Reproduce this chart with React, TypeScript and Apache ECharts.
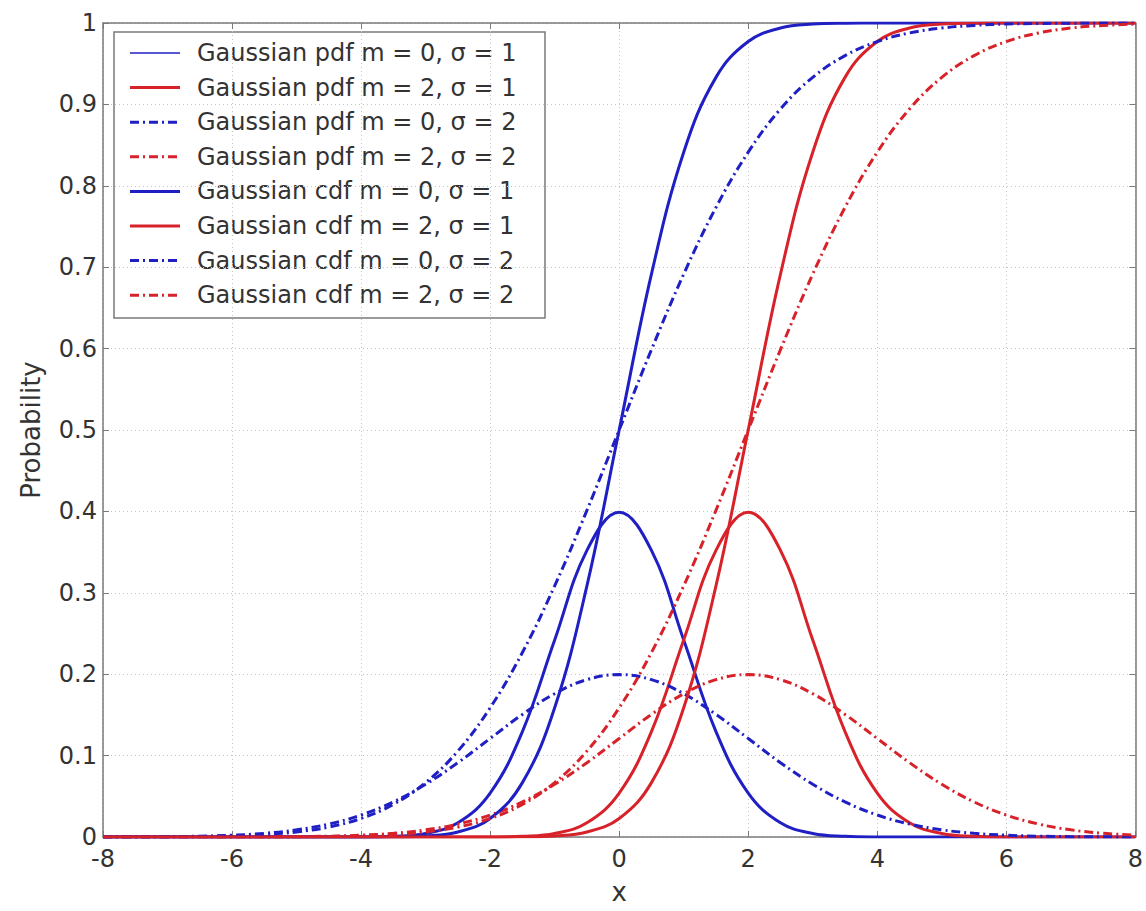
import React, { useEffect, useRef } from "react";
import * as echarts from "echarts";

const xValues = [-8, -7.5, -7, -6.5, -6, -5.5, -5, -4.5, -4, -3.5, -3, -2.5, -2, -1.5, -1, -0.5, 0, 0.5, 1, 1.5, 2, 2.5, 3, 3.5, 4, 4.5, 5, 5.5, 6, 6.5, 7, 7.5, 8];

const pdfM0S1 = [0, 0, 0, 0, 0, 0, 0, 0, 0.0001, 0.0009, 0.0044, 0.0175, 0.054, 0.1295, 0.242, 0.3521, 0.3989, 0.3521, 0.242, 0.1295, 0.054, 0.0175, 0.0044, 0.0009, 0.0001, 0, 0, 0, 0, 0, 0, 0, 0];
const pdfM2S1 = [0, 0, 0, 0, 0, 0, 0, 0, 0, 0, 0, 0, 0.0001, 0.0009, 0.0044, 0.0175, 0.054, 0.1295, 0.242, 0.3521, 0.3989, 0.3521, 0.242, 0.1295, 0.054, 0.0175, 0.0044, 0.0009, 0.0001, 0, 0, 0, 0];
const pdfM0S2 = [0.0001, 0.0002, 0.0004, 0.001, 0.0022, 0.0045, 0.0088, 0.0159, 0.027, 0.0431, 0.0648, 0.0913, 0.121, 0.1506, 0.176, 0.1933, 0.1995, 0.1933, 0.176, 0.1506, 0.121, 0.0913, 0.0648, 0.0431, 0.027, 0.0159, 0.0088, 0.0045, 0.0022, 0.001, 0.0004, 0.0002, 0.0001];
const pdfM2S2 = [0, 0, 0, 0.0001, 0.0001, 0.0002, 0.0004, 0.001, 0.0022, 0.0045, 0.0088, 0.0159, 0.027, 0.0431, 0.0648, 0.0913, 0.121, 0.1506, 0.176, 0.1933, 0.1995, 0.1933, 0.176, 0.1506, 0.121, 0.0913, 0.0648, 0.0431, 0.027, 0.0159, 0.0088, 0.0045, 0.0022];
const cdfM0S1 = [0, 0, 0, 0, 0, 0, 0, 0, 0, 0.0002, 0.0013, 0.0062, 0.0228, 0.0668, 0.1587, 0.3085, 0.5, 0.6915, 0.8413, 0.9332, 0.9772, 0.9938, 0.9987, 0.9998, 1, 1, 1, 1, 1, 1, 1, 1, 1];
const cdfM2S1 = [0, 0, 0, 0, 0, 0, 0, 0, 0, 0, 0, 0, 0, 0.0002, 0.0013, 0.0062, 0.0228, 0.0668, 0.1587, 0.3085, 0.5, 0.6915, 0.8413, 0.9332, 0.9772, 0.9938, 0.9987, 0.9998, 1, 1, 1, 1, 1];
const cdfM0S2 = [0, 0.0001, 0.0002, 0.0006, 0.0013, 0.003, 0.0062, 0.0122, 0.0228, 0.0401, 0.0668, 0.1056, 0.1587, 0.2266, 0.3085, 0.4013, 0.5, 0.5987, 0.6915, 0.7734, 0.8413, 0.8944, 0.9332, 0.9599, 0.9772, 0.9878, 0.9938, 0.997, 0.9987, 0.9994, 0.9998, 0.9999, 1];
const cdfM2S2 = [0, 0, 0, 0, 0, 0.0001, 0.0002, 0.0006, 0.0013, 0.003, 0.0062, 0.0122, 0.0228, 0.0401, 0.0668, 0.1056, 0.1587, 0.2266, 0.3085, 0.4013, 0.5, 0.5987, 0.6915, 0.7734, 0.8413, 0.8944, 0.9332, 0.9599, 0.9772, 0.9878, 0.9938, 0.997, 0.9987];

const seriesNames = [
  "Gaussian pdf m = 0, σ = 1",
  "Gaussian pdf m = 2, σ = 1",
  "Gaussian pdf m = 0, σ = 2",
  "Gaussian pdf m = 2, σ = 2",
  "Gaussian cdf m = 0, σ = 1",
  "Gaussian cdf m = 2, σ = 1",
  "Gaussian cdf m = 0, σ = 2",
  "Gaussian cdf m = 2, σ = 2",
];
const seriesValues = [pdfM0S1, pdfM2S1, pdfM0S2, pdfM2S2, cdfM0S1, cdfM2S1, cdfM0S2, cdfM2S2];

const BLUE = "#1f1fc4";
const RED = "#d8222a";
const DASHDOT = [9, 4, 2, 4];
const seriesColors = [BLUE, RED, BLUE, RED, BLUE, RED, BLUE, RED];
const seriesDashed = [false, false, true, true, false, false, true, true];
const legendWidths = [1.5, 3, 3, 3, 3, 3, 3, 3];

const FONT = "DejaVu Sans";

export default function App() {
  const ref = useRef<HTMLDivElement>(null);
  useEffect(() => {
    if (!ref.current) return;
    const chart = echarts.init(ref.current, undefined, { renderer: "svg" });
    const series = seriesNames.map((name, i) => ({
      name,
      type: "line",
      xAxisIndex: 0,
      yAxisIndex: 0,
      data: xValues.map((x, j) => [x, seriesValues[i][j]]),
      smooth: 0.4,
      showSymbol: false,
      symbol: "none",
      lineStyle: {
        color: seriesColors[i],
        width: 3,
        type: seriesDashed[i] ? DASHDOT : "solid",
      },
      itemStyle: { color: seriesColors[i] },
    }));

    // legend box drawn with graphic elements
    const LX = 114, LY = 32, LW = 431, LH = 286, ROW0 = 53, ROWH = 34.6;
    const legendChildren: any[] = [
      {
        type: "rect",
        shape: { x: LX, y: LY, width: LW, height: LH },
        style: { fill: "#ffffff", stroke: "#7a7a7a", lineWidth: 1.5 },
      },
    ];
    seriesNames.forEach((name, i) => {
      const y = ROW0 + i * ROWH;
      legendChildren.push({
        type: "line",
        shape: { x1: 130, y1: y, x2: 180, y2: y },
        style: {
          stroke: seriesColors[i],
          lineWidth: legendWidths[i],
          lineDash: seriesDashed[i] ? DASHDOT : null,
        },
      });
      legendChildren.push({
        type: "text",
        x: 197,
        y,
        style: {
          text: name,
          fontFamily: FONT,
          fontSize: 24,
          fill: "#333",
          verticalAlign: "middle",
          align: "left",
        },
      });
    });

    const gridLine = { show: true, lineStyle: { color: "#c4c4c4", type: [1, 3], width: 1 } };
    const axisLine = { show: true, onZero: false, lineStyle: { color: "#7a7a7a", width: 1.5 } };
    const axisLabel = { fontFamily: FONT, fontSize: 24, color: "#333" };
    const tick = { show: true, inside: true, length: 6, lineStyle: { color: "#7a7a7a" } };
    chart.setOption({
      animation: false,
      backgroundColor: "#ffffff",
      grid: { left: 103, right: 4, top: 23, bottom: 74, containLabel: false },
      graphic: [{ type: "group", z: 100, children: legendChildren }],
      xAxis: [
        {
          type: "value",
          min: -8,
          max: 8,
          interval: 2,
          position: "bottom",
          name: "x",
          nameLocation: "middle",
          nameGap: 42,
          nameTextStyle: { fontFamily: FONT, fontSize: 26, color: "#333" },
          axisLine,
          axisTick: tick,
          axisLabel: { ...axisLabel, margin: 10 },
          splitLine: gridLine,
        },
        {
          type: "value",
          min: -8,
          max: 8,
          interval: 2,
          position: "top",
          axisLine,
          axisTick: tick,
          axisLabel: { show: false },
          splitLine: { show: false },
        },
      ],
      yAxis: [
        {
          type: "value",
          min: 0,
          max: 1,
          interval: 0.1,
          position: "left",
          name: "Probability",
          nameLocation: "middle",
          nameGap: 59,
          nameTextStyle: { fontFamily: FONT, fontSize: 26, color: "#333" },
          axisLine,
          axisTick: tick,
          axisLabel: { ...axisLabel, margin: 6 },
          splitLine: gridLine,
        },
        {
          type: "value",
          min: 0,
          max: 1,
          interval: 0.1,
          position: "right",
          axisLine,
          axisTick: tick,
          axisLabel: { show: false },
          splitLine: { show: false },
        },
      ],
      series,
    });
    return () => chart.dispose();
  }, []);
  return (
    <div
      ref={ref}
      style={{ position: "fixed", left: 0, top: 0, width: 1146, height: 911, background: "#fff" }}
    />
  );
}
